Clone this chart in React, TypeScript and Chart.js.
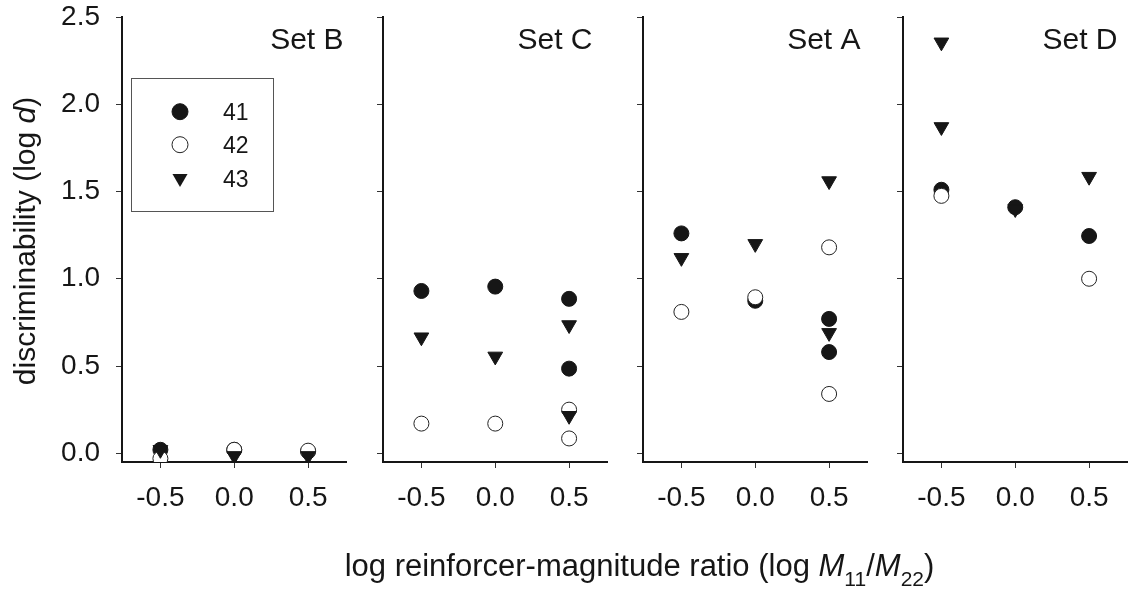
import React, { useEffect, useRef } from 'react';
import { Chart, registerables } from 'chart.js';

Chart.register(...registerables);

// ---------- data ----------
const subjects = ['41', '42', '43'];
const setNames = ['Set B', 'Set C', 'Set A', 'Set D'];
const xTickValues = [-0.5, 0.0, 0.5];
const yTickValues = [0.0, 0.5, 1.0, 1.5, 2.0, 2.5];

// Set B
const setB_41_x = [-0.5, 0.0, 0.5];
const setB_41_y = [0.02, 0.02, 0.01];
const setB_42_x = [-0.5, 0.0, 0.5];
const setB_42_y = [-0.03, 0.02, 0.015];
const setB_43_x = [-0.5, 0.0, 0.5];
const setB_43_y = [0.02, -0.015, -0.015];

// Set C
const setC_41_x = [-0.5, 0.0, 0.5, 0.5];
const setC_41_y = [0.93, 0.955, 0.885, 0.485];
const setC_42_x = [-0.5, 0.0, 0.5, 0.5];
const setC_42_y = [0.17, 0.17, 0.25, 0.085];
const setC_43_x = [-0.5, 0.0, 0.5, 0.5];
const setC_43_y = [0.665, 0.555, 0.735, 0.215];

// Set A
const setA_41_x = [-0.5, 0.0, 0.5, 0.5];
const setA_41_y = [1.26, 0.874, 0.77, 0.58];
const setA_42_x = [-0.5, 0.0, 0.5, 0.5];
const setA_42_y = [0.81, 0.894, 1.18, 0.34];
const setA_43_x = [-0.5, 0.0, 0.5, 0.5];
const setA_43_y = [1.12, 1.2, 1.56, 0.69];

// Set D
const setD_41_x = [-0.5, 0.0, 0.5];
const setD_41_y = [1.51, 1.41, 1.245];
const setD_42_x = [-0.5, 0.5];
const setD_42_y = [1.475, 1.0];
const setD_43_x = [-0.5, -0.5, 0.0, 0.5];
const setD_43_y = [2.355, 1.87, 1.4, 1.585];

const panelSeries = [
  [[setB_41_x, setB_41_y], [setB_42_x, setB_42_y], [setB_43_x, setB_43_y]],
  [[setC_41_x, setC_41_y], [setC_42_x, setC_42_y], [setC_43_x, setC_43_y]],
  [[setA_41_x, setA_41_y], [setA_42_x, setA_42_y], [setA_43_x, setA_43_y]],
  [[setD_41_x, setD_41_y], [setD_42_x, setD_42_y], [setD_43_x, setD_43_y]],
];

// ---------- layout / style ----------
const FONT = '"Liberation Sans", Arial, Helvetica, sans-serif';
const INK = '#161616';
const CANVAS_H = 591;
const panelAxisX = [122, 383, 643, 903];
const plotWidth = 224;
const extraRight = 10;
const setLabelInset = [3, 15, 7, 10];

const markerStyles = [
  { pointStyle: 'circle', radius: 7.5, bg: INK, border: INK, rotation: 0, order: 3 },
  { pointStyle: 'circle', radius: 7.5, bg: '#ffffff', border: '#222222', rotation: 0, order: 2 },
  { pointStyle: 'triangle', radius: 8.5, bg: INK, border: INK, rotation: 180, order: 1 },
];

function drawLegend(ctx: CanvasRenderingContext2D) {
  ctx.save();
  ctx.strokeStyle = '#555';
  ctx.lineWidth = 1;
  ctx.strokeRect(131.5, 78.5, 142, 133);
  const rows = [111.7, 144.7, 178.3];
  rows.forEach((cy, i) => {
    const cx = 180;
    ctx.beginPath();
    if (i < 2) {
      ctx.arc(cx, cy, 8, 0, Math.PI * 2);
      ctx.fillStyle = i === 0 ? INK : '#fff';
      ctx.fill();
      ctx.strokeStyle = i === 0 ? INK : '#222';
      ctx.lineWidth = 1;
      ctx.stroke();
    } else {
      const r = 8.7;
      ctx.moveTo(cx, cy + r);
      ctx.lineTo(cx - r * Math.sin(Math.PI / 3), cy - r / 2);
      ctx.lineTo(cx + r * Math.sin(Math.PI / 3), cy - r / 2);
      ctx.closePath();
      ctx.fillStyle = INK;
      ctx.fill();
    }
    ctx.fillStyle = INK;
    ctx.font = `23px ${FONT}`;
    ctx.textAlign = 'left';
    ctx.textBaseline = 'alphabetic';
    ctx.fillText(subjects[i], 223, cy + 8.3);
  });
  ctx.restore();
}

function drawYTitle(ctx: CanvasRenderingContext2D) {
  ctx.save();
  ctx.translate(35, 241);
  ctx.rotate(-Math.PI / 2);
  ctx.fillStyle = INK;
  ctx.textBaseline = 'alphabetic';
  ctx.textAlign = 'left';
  const parts = [
    { t: 'discriminability (log ', f: `30px ${FONT}` },
    { t: 'd', f: `italic 30px ${FONT}` },
    { t: ')', f: `30px ${FONT}` },
  ];
  let total = 0;
  parts.forEach((p) => {
    ctx.font = p.f;
    total += ctx.measureText(p.t).width;
  });
  let x = -total / 2;
  parts.forEach((p) => {
    ctx.font = p.f;
    ctx.fillText(p.t, x, 0);
    x += ctx.measureText(p.t).width;
  });
  ctx.restore();
}

export default function App() {
  const refs = [useRef<HTMLCanvasElement>(null), useRef<HTMLCanvasElement>(null), useRef<HTMLCanvasElement>(null), useRef<HTMLCanvasElement>(null)];

  useEffect(() => {
    const charts: Chart[] = [];
    panelSeries.forEach((series, p) => {
      const canvas = refs[p].current;
      if (!canvas) return;
      const yW = p === 0 ? panelAxisX[0] : 20;
      const datasets = series.map(([xs, ys], s) => {
        const m = markerStyles[s];
        return {
          label: subjects[s],
          data: xs.map((x, k) => ({ x, y: ys[k] })),
          showLine: false,
          pointStyle: m.pointStyle,
          pointRadius: m.radius,
          pointRotation: m.rotation,
          pointBackgroundColor: m.bg,
          pointBorderColor: m.border,
          pointBorderWidth: 1,
          backgroundColor: m.bg,
          borderColor: m.border,
          order: m.order,
        };
      });
      const annotate = {
        id: 'annotate' + p,
        afterDraw(chart: any) {
          const ctx = chart.ctx as CanvasRenderingContext2D;
          const area = chart.chartArea;
          ctx.save();
          ctx.font = `30px ${FONT}`;
          ctx.fillStyle = INK;
          ctx.textAlign = 'right';
          ctx.textBaseline = 'alphabetic';
          ctx.fillText(setNames[p], area.right - setLabelInset[p], 48.5);
          ctx.restore();
          if (p === 0) {
            drawLegend(ctx);
            drawYTitle(ctx);
          }
        },
      };
      const chart = new Chart(canvas, {
        type: 'scatter',
        data: { datasets: datasets as any },
        options: {
          responsive: false,
          animation: false,
          events: [],
          layout: { padding: { top: 17, right: 4, bottom: 69, left: 0 } },
          plugins: { legend: { display: false }, tooltip: { enabled: false } },
          scales: {
            x: {
              type: 'linear',
              position: 'bottom',
              min: -0.76,
              max: 0.76,
              afterBuildTicks: (a: any) => {
                a.ticks = xTickValues.map((v) => ({ value: v }));
              },
              afterFit: (s: any) => {
                s.height = 60;
              },
              grid: { display: true, drawOnChartArea: false, drawTicks: true, tickLength: 6, color: '#333', lineWidth: 1 },
              border: { display: true, color: INK, width: 2 },
              ticks: {
                autoSkip: false,
                maxRotation: 0,
                padding: 13,
                color: INK,
                font: { family: FONT, size: 28 },
                callback: (v: any) => Number(v).toFixed(1),
              },
            },
            y: {
              type: 'linear',
              position: 'left',
              min: -0.05,
              max: 2.5,
              afterBuildTicks: (a: any) => {
                a.ticks = yTickValues.map((v) => ({ value: v }));
              },
              afterFit: (s: any) => {
                s.width = yW;
              },
              grid: { display: true, drawOnChartArea: false, drawTicks: true, tickLength: 6, color: '#333', lineWidth: 1 },
              border: { display: true, color: INK, width: 2 },
              ticks: {
                display: p === 0,
                padding: 16,
                color: INK,
                font: { family: FONT, size: 28, lineHeight: 0.05 },
                callback: (v: any) => Number(v).toFixed(1),
              },
            },
          },
        },
        plugins: [annotate],
      });
      charts.push(chart);
    });
    return () => charts.forEach((c) => c.destroy());
  }, []);

  const subStyle = { fontSize: 21, position: 'relative' as const, top: 10 };

  return (
    <div style={{ position: 'absolute', left: 0, top: 0, width: 1128, height: 591, overflow: 'hidden', background: '#fff' }}>
      {panelAxisX.map((ax, p) => {
        const yW = p === 0 ? ax : 20;
        const w = yW + plotWidth + extraRight;
        return (
          <canvas
            key={p}
            ref={refs[p]}
            width={w}
            height={CANVAS_H}
            style={{ position: 'absolute', left: ax - yW, top: 0, width: w, height: CANVAS_H }}
          />
        );
      })}
      <div
        style={{
          position: 'absolute',
          left: 639.5,
          top: 550,
          transform: 'translateX(-50%)',
          font: `31px ${FONT}`,
          lineHeight: '31px',
          whiteSpace: 'nowrap',
          color: INK,
        }}
      >
        log reinforcer-magnitude ratio (log <i>M</i>
        <span style={subStyle}>11</span>/<i>M</i>
        <span style={subStyle}>22</span>)
      </div>
    </div>
  );
}
